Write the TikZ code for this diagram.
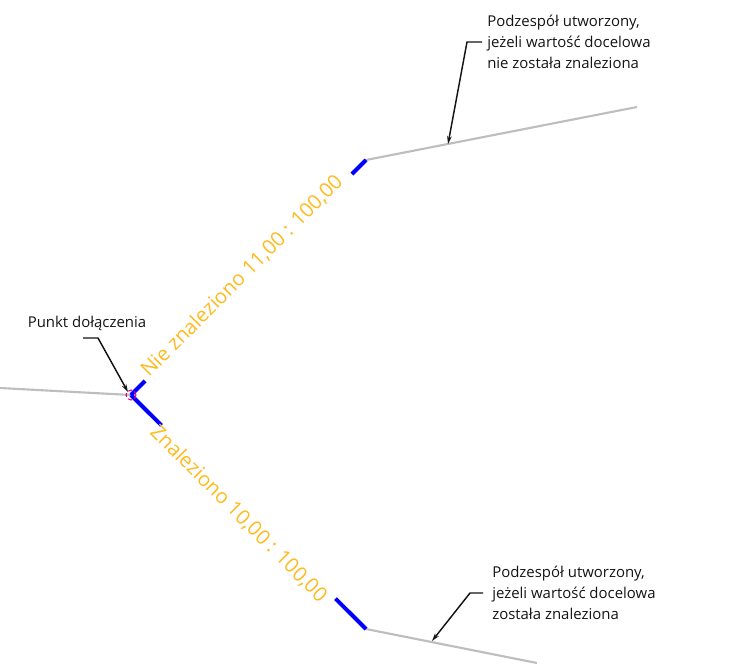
\documentclass[tikz,border=0pt]{standalone}
\usepackage{fontspec}
\setmainfont{Open Sans}
\usepackage{tikz}
\usetikzlibrary{arrows.meta,positioning,calc}
\definecolor{EdgeGray}{RGB}{190,190,190}
\definecolor{TagOrange}{RGB}{255,186,30}
\definecolor{LeadBlack}{RGB}{20,20,20}

\begin{document}
\begin{tikzpicture}[x=0.75pt,y=-0.75pt,
  edge/.style={EdgeGray,line width=1.6pt},
  stub/.style={blue,line width=3pt},
  leader/.style={LeadBlack,line width=1.1pt,-{Stealth[length=6pt,width=3.5pt]}},
  note/.style={text=LeadBlack,font=\fontsize{11.2}{15.5}\selectfont,align=left,inner sep=0pt},
  tag/.style={text=TagOrange,font=\fontsize{15.2}{18}\selectfont,inner sep=0pt}]
  \useasboundingbox (0,0) rectangle (734,663);
  % attachment point and branch ends
  \coordinate (P) at (131,395);
  \coordinate (up) at (366,160);
  \coordinate (dn) at (366,629);
  \coordinate (in) at (0,388);
  \draw[edge] (in) -- (P);
  \draw[edge] (up) -- (637,107);
  \draw[edge] (dn) -- (537,663);
  \draw[stub] (P) -- ($(P)!0.06!(up)$) ($(P)!0.94!(up)$) -- (up);
  \draw[stub] (P) -- ($(P)!0.13!(dn)$) ($(P)!0.87!(dn)$) -- (dn);
  \draw[magenta,densely dashed,line width=0.8pt] (P) circle (5);
  % branch labels
  \node[tag,rotate=45,anchor=base west] (nf) at (149,378) {Nie znaleziono 11,00 : 100,00};
  \node[tag,rotate=-45,anchor=north west] (fd) at (160,422) {Znaleziono 10,00 : 100,00};
  % callouts
  \node[note] (pk) at (87,323) {Punkt dołączenia};
  \node[note,anchor=west] (nu) at (487,42) {Podzespół utworzony,\\jeżeli wartość docelowa\\nie została znaleziona};
  \node[note,anchor=west] (nd) at (492,593) {Podzespół utworzony,\\jeżeli wartość docelowa\\została znaleziona};
  \coordinate (pkA) at (83,338);
  \coordinate (nuA) at (482,42);
  \coordinate (ndA) at (483,593);
  \coordinate (pkT) at (128,392);
  \coordinate (nuT) at (448,144);
  \coordinate (ndT) at (432,641);
  \draw[leader] (pkA) -- ++(15,0) -- (pkT);
  \draw[leader] (nuA) -- ++(-15,0) -- (nuT);
  \draw[leader] (ndA) -- ++(-13,0) -- (ndT);
\end{tikzpicture}
\end{document}
